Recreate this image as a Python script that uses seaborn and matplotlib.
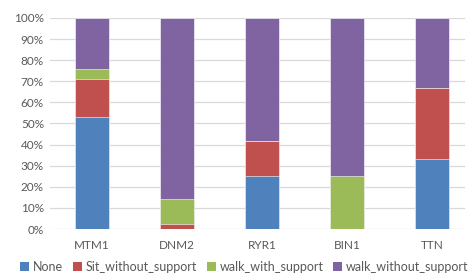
import numpy as np
import pandas as pd
import matplotlib
matplotlib.use("Agg")
import matplotlib.pyplot as plt
import seaborn as sns
from matplotlib.patches import Patch
from matplotlib.ticker import PercentFormatter

# --- Data (percent per gene) ---
genes = ["MTM1", "DNM2", "RYR1", "BIN1", "TTN"]
none = [52.9, 0.0, 25.0, 0.0, 33.3]
sit_without_support = [18.2, 2.4, 16.7, 0.0, 33.4]
walk_with_support = [4.7, 11.9, 0.0, 25.0, 0.0]
walk_without_support = [24.2, 85.7, 58.3, 75.0, 33.3]

series = ["None", "Sit_without_support", "walk_with_support", "walk_without_support"]
colors = ["#4f81bd", "#c0504d", "#9bbb59", "#8064a2"]

df = pd.DataFrame({
    "gene": genes,
    "None": none,
    "Sit_without_support": sit_without_support,
    "walk_with_support": walk_with_support,
    "walk_without_support": walk_without_support,
})
cum = df[series].cumsum(axis=1) / 100.0

sns.set_theme(style="white")
plt.rcParams["font.family"] = ["Lato", "DejaVu Sans"]

fig = plt.figure(figsize=(4.7, 2.77), dpi=100)
ax = fig.add_axes([49.5 / 470, 48 / 277, 415.5 / 470, 211 / 277])

# stacked bars: draw cumulative totals from top series down
for name, col in zip(reversed(series), reversed(colors)):
    sns.barplot(x=df["gene"], y=cum[name], color=col, width=0.4,
                edgecolor="white", linewidth=0.4, saturation=1, ax=ax, zorder=3)

ax.set_ylim(0, 1)
ax.set_xlim(-0.5, -0.5 + 415.5 / 85)
ax.yaxis.set_major_locator(plt.MultipleLocator(0.1))
ax.yaxis.set_major_formatter(PercentFormatter(1.0, decimals=0))
ax.grid(axis="y", color="#d9d9d9", linewidth=0.9, zorder=0)
ax.set_axisbelow(True)
sns.despine(ax=ax, left=True, bottom=True)
ax.set_xlabel("")
ax.set_ylabel("")
ax.tick_params(axis="both", length=0, labelsize=8.5, colors="#595959", pad=4)
ax.tick_params(axis="x", pad=8)

handles = [Patch(facecolor=c, edgecolor="none") for c in colors]
fig.legend(handles, series, loc="lower center", bbox_to_anchor=(0.52, -0.025), ncol=4,
           frameon=False, fontsize=9, handlelength=0.7, handleheight=0.7,
           handletextpad=0.3, columnspacing=0.8, labelcolor="#595959")

plt.savefig("out.png", dpi=100)
